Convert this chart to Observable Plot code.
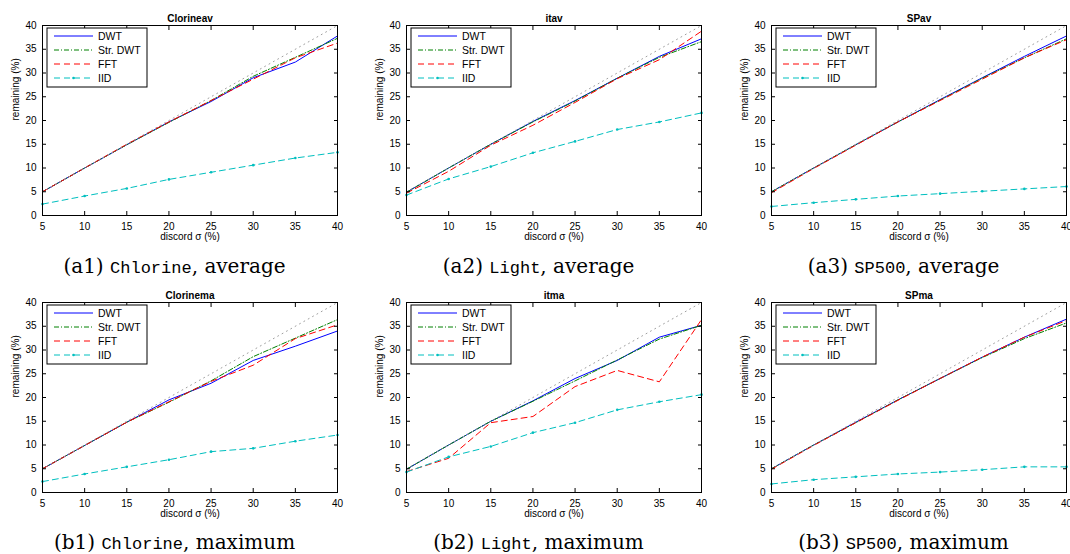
<!DOCTYPE html>
<html><head><meta charset="utf-8">
<script src="https://cdn.jsdelivr.net/npm/d3@7"></script>
<script src="https://cdn.jsdelivr.net/npm/@observablehq/plot@0.6"></script>
<style>
html,body{margin:0;padding:0;background:#fff;overflow:hidden;}
#root{position:relative;width:1070px;height:554px;overflow:hidden;background:#fff;}
.panel{position:absolute;}
.panel svg{max-width:none !important;display:block;}
.cap{position:absolute;font-family:"DejaVu Serif","Liberation Serif",serif;font-size:20px;line-height:20px;white-space:nowrap;transform:translateX(-50%);color:#000;}
.cap .tt{font-family:"Liberation Mono","DejaVu Sans Mono",monospace;font-size:17px;}
</style></head><body><div id="root"></div>
<script>
// ---- data ----
const sigma = [5, 10, 15, 20, 25, 30, 35, 40];
const xTicks = [5, 10, 15, 20, 25, 30, 35, 40];
const yTicks = [0, 5, 10, 15, 20, 25, 30, 35, 40];
const idealX = [5, 40];
const idealY = [5, 40];
const methods = ["DWT", "Str. DWT", "FFT", "IID"];
const panelTitles = ["Clorineav", "itav", "SPav", "Clorinema", "itma", "SPma"];
const captionIds = ["(a1)", "(a2)", "(a3)", "(b1)", "(b2)", "(b3)"];
const captionDatasets = ["Chlorine", "Light", "SP500", "Chlorine", "Light", "SP500"];
const captionKinds = ["average", "average", "average", "maximum", "maximum", "maximum"];
const xLabel = "discord σ (%)";
const yLabel = "remaining (%)";

// (a1) Chlorine, average
const chlAvgDWT = [5.0, 10.0, 14.9, 19.7, 24.0, 29.0, 32.3, 37.8];
const chlAvgStr = [5.0, 10.0, 14.9, 19.6, 24.2, 29.3, 33.3, 37.3];
const chlAvgFFT = [5.0, 10.0, 15.0, 19.7, 24.2, 28.7, 33.2, 36.3];
const chlAvgIID = [2.4, 4.1, 5.7, 7.6, 9.1, 10.6, 12.1, 13.3];
// (a2) Light, average
const ligAvgDWT = [4.9, 10.0, 15.0, 19.8, 24.2, 28.9, 33.5, 37.2];
const ligAvgStr = [4.9, 10.0, 15.0, 19.7, 24.1, 28.9, 33.3, 36.6];
const ligAvgFFT = [4.7, 9.3, 14.8, 19.0, 23.8, 28.8, 32.8, 38.8];
const ligAvgIID = [4.3, 7.7, 10.3, 13.2, 15.6, 18.1, 19.7, 21.6];
// (a3) SP500, average
const spAvgDWT = [5.0, 10.0, 14.9, 19.7, 24.4, 29.0, 33.5, 37.8];
const spAvgStr = [5.0, 10.0, 14.9, 19.7, 24.3, 28.9, 33.2, 37.2];
const spAvgFFT = [4.8, 9.9, 14.8, 19.7, 24.2, 28.7, 33.2, 37.0];
const spAvgIID = [1.9, 2.7, 3.4, 4.1, 4.6, 5.1, 5.6, 6.1];
// (b1) Chlorine, maximum
const chlMaxDWT = [5.0, 9.9, 14.8, 19.5, 23.0, 27.8, 30.8, 34.0];
const chlMaxStr = [5.0, 9.9, 14.8, 19.0, 23.5, 28.6, 32.5, 36.4];
const chlMaxFFT = [5.0, 9.9, 14.8, 19.1, 23.4, 26.8, 32.4, 35.3];
const chlMaxIID = [2.3, 3.9, 5.4, 6.9, 8.6, 9.3, 10.8, 12.1];
// (b2) Light, maximum
const ligMaxDWT = [4.9, 10.0, 15.0, 19.3, 24.0, 27.8, 32.7, 35.2];
const ligMaxStr = [4.9, 10.0, 15.0, 19.2, 23.5, 27.9, 32.3, 35.2];
const ligMaxFFT = [4.4, 7.2, 14.7, 16.0, 22.3, 25.7, 23.3, 36.4];
const ligMaxIID = [4.3, 7.5, 9.7, 12.6, 14.7, 17.4, 19.1, 20.6];
// (b3) SP500, maximum
const spMaxDWT = [5.0, 10.0, 14.8, 19.5, 24.0, 28.5, 32.7, 36.5];
const spMaxStr = [5.0, 10.0, 14.7, 19.5, 24.0, 28.4, 32.4, 35.7];
const spMaxFFT = [4.9, 9.9, 14.7, 19.4, 24.0, 28.5, 32.7, 36.2];
const spMaxIID = [1.8, 2.7, 3.3, 3.9, 4.3, 4.8, 5.4, 5.4];

const panelSeries = [
  [chlAvgDWT, chlAvgStr, chlAvgFFT, chlAvgIID],
  [ligAvgDWT, ligAvgStr, ligAvgFFT, ligAvgIID],
  [spAvgDWT, spAvgStr, spAvgFFT, spAvgIID],
  [chlMaxDWT, chlMaxStr, chlMaxFFT, chlMaxIID],
  [ligMaxDWT, ligMaxStr, ligMaxFFT, ligMaxIID],
  [spMaxDWT, spMaxStr, spMaxFFT, spMaxIID]
];

// ---- styles & layout ----
const colors = ["#0000ff", "#008000", "#ff0000", "#00bfbf"];
const dashes = [null, "5,2,1,2", "6,4", "6,4"];
const FONT = '"Liberation Sans", Arial, Helvetica, sans-serif';
const ML = 42, MR = 20, MT = 25, MB = 35, PW = 295, PH = 190;
const plotLefts = [42, 406, 771];
const plotTops = [25, 302];
const capBaselines = [273, 549];

const root = document.getElementById("root");

function rows(xs, ys) { return xs.map((x, i) => ({x, y: ys[i]})); }

panelSeries.forEach((series, p) => {
  const col = p % 3, row = Math.floor(p / 3);
  const marks = [
    ...series.slice(0, 3).map((s, k) => Plot.line(rows(sigma, s), {
      x: "x", y: "y", stroke: colors[k], strokeWidth: 1, strokeDasharray: dashes[k]
    })),
    Plot.line(rows(sigma, series[3]), {x: "x", y: "y", stroke: colors[3], strokeWidth: 1, strokeDasharray: dashes[3]}),
    Plot.dot(rows(sigma, series[3]), {x: "x", y: "y", r: 1.3, fill: colors[3], stroke: null}),
    Plot.line(rows(idealX, idealY), {x: "x", y: "y", stroke: "#a0a0a0", strokeWidth: 1, strokeDasharray: "1,4"}),
    Plot.frame({stroke: "black"}),
    Plot.axisX({anchor: "bottom", ticks: xTicks, tickSize: -4, tickPadding: 11, label: null}),
    Plot.axisX({anchor: "top", ticks: xTicks, tickSize: -4, tickFormat: () => "", label: null}),
    Plot.axisY({anchor: "left", ticks: yTicks, tickSize: -4, tickPadding: 10, label: null}),
    Plot.axisY({anchor: "right", ticks: yTicks, tickSize: -4, tickFormat: () => "", label: null}),
    Plot.text([panelTitles[p]], {text: d => d, frameAnchor: "top", dy: -11, fontWeight: "bold", fontSize: 10}),
    Plot.text([xLabel], {text: d => d, frameAnchor: "bottom", dy: 24, fontSize: 10}),
    Plot.text([yLabel], {text: d => d, frameAnchor: "left", dx: -27, rotate: -90, fontSize: 10})
  ];
  const W = ML + PW + MR, H = MT + PH + MB;
  const svg = Plot.plot({
    width: W,
    height: H,
    marginLeft: ML, marginRight: MR, marginTop: MT, marginBottom: MB,
    x: {domain: [5, 40]},
    y: {domain: [0, 40]},
    style: {fontFamily: FONT, fontSize: "10px", color: "black", background: "transparent", overflow: "visible", maxWidth: "none"},
    marks
  });
  // legend box inside the axes (top-left)
  const g = d3.select(svg).append("g").attr("transform", `translate(${ML},${MT})`)
    .attr("font-family", FONT).attr("font-size", 10.5).attr("text-anchor", "start");
  g.append("rect").attr("x", 5).attr("y", 3).attr("width", 100).attr("height", 59)
    .attr("fill", "white").attr("stroke", "black").attr("stroke-width", 1);
  methods.forEach((m, k) => {
    const y = 11 + 14 * k;
    g.append("line").attr("x1", 12).attr("x2", 51).attr("y1", y).attr("y2", y)
      .attr("stroke", colors[k]).attr("stroke-width", 1)
      .attr("stroke-dasharray", dashes[k] || null);
    if (k === 3) g.append("circle").attr("cx", 31.5).attr("cy", y).attr("r", 1.3).attr("fill", colors[k]);
    g.append("text").attr("x", 56).attr("y", y).attr("dy", "0.35em").attr("fill", "black")
      .attr("text-anchor", "start").text(m);
  });

  const wrap = document.createElement("div");
  wrap.className = "panel";
  wrap.style.left = (plotLefts[col] - ML) + "px";
  wrap.style.top = (plotTops[row] - MT) + "px";
  wrap.style.width = W + "px";
  wrap.style.height = H + "px";
  wrap.appendChild(svg);
  root.appendChild(wrap);

  const cap = document.createElement("div");
  cap.className = "cap";
  cap.style.left = (plotLefts[col] + PW / 2 - 15) + "px";
  cap.style.top = (capBaselines[row] - 17) + "px";
  const tt = document.createElement("span");
  tt.className = "tt";
  tt.textContent = captionDatasets[p];
  cap.appendChild(document.createTextNode(captionIds[p] + " "));
  cap.appendChild(tt);
  cap.appendChild(document.createTextNode(", " + captionKinds[p]));
  root.appendChild(cap);
});
</script>
</body></html>
